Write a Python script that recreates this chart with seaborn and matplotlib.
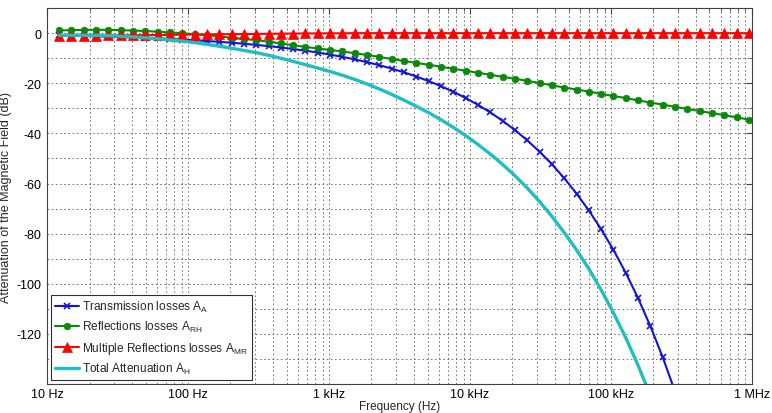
import numpy as np
import pandas as pd
import matplotlib
matplotlib.use('Agg')
import matplotlib.pyplot as plt
import matplotlib.ticker as mticker
import seaborn as sns

# Frequency points (Hz) of the marker positions
freq_hz = [12.16, 14.87, 18.19, 22.25, 27.21, 33.27, 40.69, 49.76, 60.85, 74.42,
           91.0, 111.3, 136.1, 166.4, 203.6, 248.9, 304.4, 372.3, 455.3, 556.8,
           680.8, 832.6, 1018, 1245, 1523, 1862, 2277, 2785, 3406, 4165,
           5093, 6229, 7617, 9316, 11390, 13930, 17040, 20840, 25480, 31160,
           38110, 46600, 57000, 69700, 85240, 104200, 127500, 155900, 190700, 233200,
           285100, 348700, 426500, 521500, 637800, 779800, 953700]

# Transmission (absorption) losses A_A, dB
transmission_db = [-0.93, -1.03, -1.14, -1.26, -1.40, -1.55, -1.71, -1.89, -2.09, -2.31,
                   -2.56, -2.83, -3.13, -3.46, -3.82, -4.23, -4.68, -5.17, -5.72, -6.32,
                   -6.99, -7.73, -8.55, -9.46, -10.46, -11.57, -12.79, -14.14, -15.64, -17.30,
                   -19.13, -21.15, -23.39, -25.87, -28.60, -31.63, -34.98, -38.68, -42.78, -47.30,
                   -52.31, -57.86, -64.00, -70.75, -78.26, -86.51, -95.68, -105.8, -117.0, -129.4,
                   -143.1]

# Reflection losses A_RH, dB
reflection_db = [1.1, 1.2, 1.3, 1.35, 1.3, 1.2, 1.05, 0.85, 0.6, 0.3,
                 0.0, -0.4, -0.85, -1.3, -1.8, -2.3, -2.8, -3.4, -4.1, -4.8,
                 -5.5, -6.1, -6.7, -7.3, -8.0, -8.7, -9.5, -10.3, -11.1, -11.9,
                 -12.6, -13.4, -14.2, -15.0, -15.8, -16.6, -17.4, -18.2, -19.0, -19.9,
                 -20.8, -21.7, -22.5, -23.3, -24.2, -25.1, -25.9, -26.8, -27.7, -28.5,
                 -29.4, -30.2, -31.1, -31.9, -32.7, -33.6, -34.5]

# Multiple reflection losses A_MR, dB
multi_reflection_db = [-1.0, -1.0, -1.0, -0.95, -0.9, -0.9, -0.85, -0.8, -0.75, -0.7,
                       -0.6, -0.55, -0.5, -0.45, -0.4, -0.35, -0.3, -0.25, -0.2, -0.15,
                       -0.1, -0.1, -0.05, -0.05, 0.0, 0.0, 0.0, 0.0, 0.0, 0.0,
                       0.0, 0.0, 0.0, 0.0, 0.0, 0.0, 0.0, 0.0, 0.0, 0.0,
                       0.0, 0.0, 0.0, 0.0, 0.0, 0.0, 0.0, 0.0, 0.0, 0.0,
                       0.0, 0.0, 0.0, 0.0, 0.0, 0.0, 0.0]

# Total attenuation A_H, dB
total_db = [-0.83, -0.83, -0.84, -0.86, -1.0, -1.25, -1.51, -1.84, -2.24, -2.71,
            -3.16, -3.78, -4.48, -5.21, -6.02, -6.88, -7.78, -8.82, -10.02, -11.27,
            -12.59, -13.93, -15.3, -16.81, -18.46, -20.27, -22.29, -24.44, -26.74, -29.2,
            -31.73, -34.55, -37.59, -40.87, -44.4, -48.23, -52.38, -56.88, -61.78, -67.2,
            -73.11, -79.56, -86.5, -94.05, -102.46, -111.61, -121.58, -132.6, -144.7]

series_labels = ['Transmission losses A$_A$', 'Reflections losses A$_{RH}$',
                 'Multiple Reflections losses A$_{MR}$', 'Total Attenuation A$_H$']
x_tick_vals = [10, 100, 1e3, 1e4, 1e5, 1e6]
x_tick_labels = ['10 Hz', '100 Hz', '1 kHz', '10 kHz', '100 kHz', '1 MHz']
y_tick_vals = [0, -20, -40, -60, -80, -100, -120]

sns.set_style('white')
plt.rcParams['font.family'] = ['Liberation Sans', 'DejaVu Sans']
plt.rcParams['mathtext.fontset'] = 'custom'
plt.rcParams['mathtext.rm'] = 'Liberation Sans'
plt.rcParams['mathtext.default'] = 'rm'
plt.rcParams['axes.unicode_minus'] = False

fig, ax = plt.subplots(figsize=(7.72, 4.14), dpi=100)
fig.subplots_adjust(left=0.061, right=0.974, bottom=0.07, top=0.978)

styles = [
    dict(color='#1414d2', marker='x', markersize=5, markeredgewidth=1.2, linewidth=1.5),
    dict(color='#0a8a0a', marker='o', markersize=4.8, markeredgewidth=0.5, linewidth=1.5),
    dict(color='#ff0000', marker='^', markersize=6.5, markeredgewidth=0.5, linewidth=1.5),
    dict(color='#1fbfbf', marker=None, linewidth=2.4),
]
series = [transmission_db, reflection_db, multi_reflection_db, total_db]

for vals, label, st in zip(series, series_labels, styles):
    df = pd.DataFrame({'freq': freq_hz[:len(vals)], 'att': vals})
    kw = dict(st)
    if kw['marker'] is not None:
        kw['markeredgecolor'] = kw['color']
        kw['markerfacecolor'] = kw['color']
    else:
        kw.pop('marker')
    sns.lineplot(data=df, x='freq', y='att', ax=ax, label=label,
                 estimator=None, sort=False, **kw)

ax.set_xscale('log')
ax.set_xlim(10, 1e6)
ax.set_ylim(-140, 10)
ax.set_xticks(x_tick_vals)
ax.set_xticklabels(x_tick_labels)
ax.xaxis.set_minor_locator(mticker.LogLocator(base=10, subs=range(2, 10), numticks=50))
ax.xaxis.set_minor_formatter(mticker.NullFormatter())
ax.set_yticks(y_tick_vals)
ax.yaxis.set_minor_locator(mticker.MultipleLocator(10))

ax.grid(which='both', linestyle=(0, (2, 3)), color='#606060', linewidth=0.6)
ax.tick_params(which='both', direction='in', top=True, right=True,
               labelsize=9, colors='#404040', labelcolor='black')
ax.tick_params(which='major', length=4, pad=4)
ax.tick_params(axis='x', which='major', pad=3)
ax.tick_params(which='minor', length=2.5)
for sp in ax.spines.values():
    sp.set_color('#404040')
    sp.set_linewidth(0.8)

ax.set_xlabel('Frequency (Hz)', fontsize=8.5, labelpad=0)
ax.set_ylabel('Attenuation of the Magnetic Field (dB)', fontsize=9, labelpad=3)

leg = ax.legend(loc='lower left', fontsize=8.6, frameon=True, fancybox=False,
                edgecolor='#303030', framealpha=1, handlelength=2.0,
                handletextpad=0.3, labelspacing=0.45, borderpad=0.3,
                borderaxespad=0.35)
leg.get_frame().set_linewidth(0.8)

fig.savefig('out.png', dpi=100)
